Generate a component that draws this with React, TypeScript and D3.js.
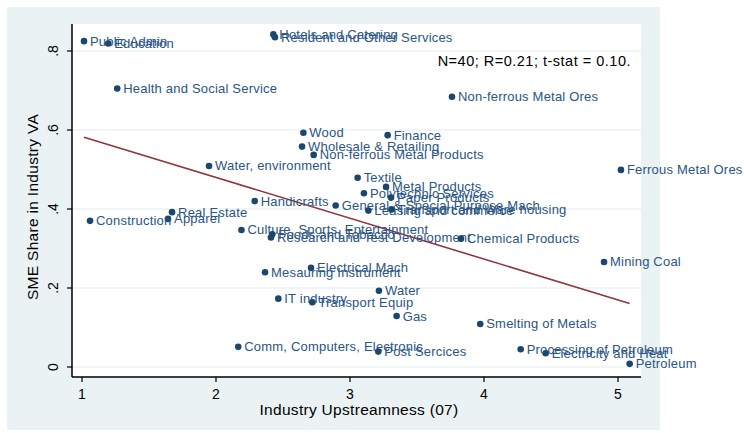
import * as d3 from "d3"

// industry names, upstreamness (x) and SME share of value added (y)
const industries = [
  "Public Admin", "Education", "Hotels and Catering", "Resident and Other Services",
  "Health and Social Service", "Wood", "Finance", "Wholesale & Retailing",
  "Non-ferrous Metal Products", "Water, environment", "Textile", "Metal Products",
  "Polytechnic Services", "Paper Products", "General & Special Purpose Mach", "Handicrafts",
  "Leasing and commerce", "Transport and Ware housing", "Real Estate", "Apparel",
  "Construction", "Culture, Sports, Entertainment", "Research and Test Development", "Foods and Tobacco",
  "Chemical Products", "Electrical Mach", "Mesauring Instrument", "Water",
  "IT industry", "Transport Equip", "Gas", "Comm, Computers, Electronic",
  "Post Sercices", "Smelting of Metals", "Processing of Petroleum", "Electricity and Heat",
  "Petroleum", "Ferrous Metal Ores", "Non-ferrous Metal Ores", "Mining Coal",
]
const upstream = [
  1.015, 1.196, 2.428, 2.44,
  1.263, 2.652, 3.281, 2.642,
  2.729, 1.948, 3.057, 3.269,
  3.104, 3.306, 2.893, 2.289,
  3.137, 3.31, 1.672, 1.642,
  1.06, 2.19, 2.41, 2.42,
  3.828, 2.709, 2.366, 3.216,
  2.465, 2.719, 3.348, 2.166,
  3.211, 3.972, 4.274, 4.46,
  5.087, 5.022, 3.761, 4.896,
]
const smeShare = [
  0.825, 0.819, 0.842, 0.835,
  0.705, 0.593, 0.587, 0.558,
  0.537, 0.509, 0.479, 0.456,
  0.44, 0.429, 0.409, 0.42,
  0.396, 0.399, 0.392, 0.375,
  0.37, 0.347, 0.328, 0.336,
  0.325, 0.251, 0.24, 0.193,
  0.173, 0.164, 0.129, 0.051,
  0.039, 0.109, 0.045, 0.035,
  0.008, 0.499, 0.684, 0.266,
]
const xTicks = [1, 2, 3, 4, 5]
const yTicks = [0, 0.2, 0.4, 0.6, 0.8]
const yTickLabels = ["0", ".2", ".4", ".6", ".8"]
const note = "N=40; R=0.21; t-stat = 0.10."

const W = 744
const H = 433
const navy = "#1a476f"
const bg = "#eaf2f3"
const font = "'Liberation Sans', Arial, sans-serif"

export default function App() {
  const x = d3.scaleLinear().domain([1, 5]).range([82, 618])
  const y = d3.scaleLinear().domain([0, 0.8]).range([367, 51])

  // least squares fit line over the data range
  const mx = d3.mean(upstream)!
  const my = d3.mean(smeShare)!
  const sxx = d3.sum(upstream, (v) => (v - mx) * (v - mx))
  const b = d3.sum(upstream, (v, i) => (v - mx) * (smeShare[i] - my)) / sxx
  const a = my - b * mx
  const [x0, x1] = d3.extent(upstream) as [number, number]
  const fit = d3.line<number>().x((v) => x(v)).y((v) => y(a + b * v))([x0, x1])

  return (
    <div style={{ position: "fixed", left: 0, top: 0 }}>
      <svg width={W} height={H} style={{ display: "block", fontFamily: font }}>
        <rect x={0} y={0} width={W} height={H} fill="#fff" />
        <rect x={7} y={7} width={653} height={423} fill={bg} />
        <rect x={72} y={24} width={569} height={353} fill="#fff" />
        {yTicks.map((t) => (
          <line key={"g" + t} x1={72} x2={641} y1={y(t)} y2={y(t)} stroke="#e1eced" strokeWidth={1.2} />
        ))}
        <path d={fit ?? ""} fill="none" stroke="#90353b" strokeWidth={1.6} />
        {industries.map((name, i) => (
          <g key={name}>
            <circle cx={x(upstream[i])} cy={y(smeShare[i])} r={3.3} fill={navy} />
            <text
              x={x(upstream[i]) + 6}
              y={y(smeShare[i])}
              dy="0.35em"
              fontSize={13}
              letterSpacing={0.2}
              fill="#2a5585"
            >
              {name}
            </text>
          </g>
        ))}
        <text x={631} y={66} textAnchor="end" fontSize={14.5} letterSpacing={0.5} fill="#000">
          {note}
        </text>
        {/* axes */}
        <line x1={72} x2={72} y1={24} y2={377} stroke="#000" strokeWidth={1.5} />
        <line x1={72} x2={641} y1={377} y2={377} stroke="#000" strokeWidth={1.5} />
        {yTicks.map((t, i) => (
          <g key={"y" + t}>
            <line x1={67} x2={72} y1={y(t)} y2={y(t)} stroke="#000" strokeWidth={1.2} />
            <text transform={`translate(58,${y(t)}) rotate(-90)`} textAnchor="middle" fontSize={14} fill="#000">
              {yTickLabels[i]}
            </text>
          </g>
        ))}
        {xTicks.map((t) => (
          <g key={"x" + t}>
            <line x1={x(t)} x2={x(t)} y1={377} y2={382} stroke="#000" strokeWidth={1.2} />
            <text x={x(t)} y={399} textAnchor="middle" fontSize={14} fill="#000">
              {t}
            </text>
          </g>
        ))}
        <text x={359} y={415} textAnchor="middle" fontSize={15.5} letterSpacing={0.3} fill="#000">
          Industry Upstreamness (07)
        </text>
        <text transform="translate(38,207) rotate(-90)" textAnchor="middle" fontSize={15.5} letterSpacing={0.3} fill="#000">
          SME Share in Industry VA
        </text>
      </svg>
    </div>
  )
}
